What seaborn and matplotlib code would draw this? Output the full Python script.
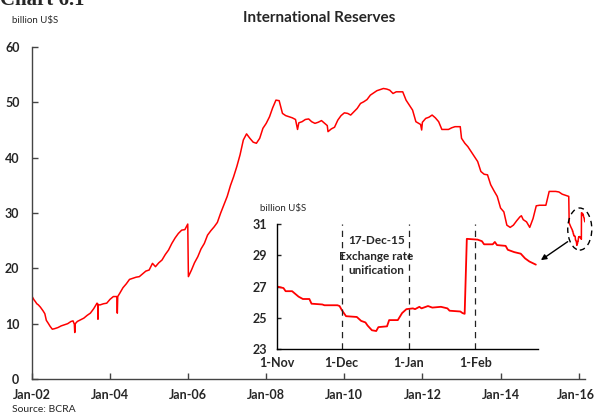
import matplotlib
matplotlib.use("Agg")
import matplotlib.pyplot as plt
import matplotlib.dates as mdates
import matplotlib.transforms as mtransforms
from matplotlib.patches import Ellipse
import pandas as pd
import seaborn as sns

# ---------------- data ----------------
main_dates = [
    "2002-01-02", "2002-01-20", "2002-02-01", "2002-02-15", "2002-03-01", "2002-03-20",
    "2002-04-15", "2002-05-01", "2002-05-15", "2002-06-01", "2002-06-20", "2002-07-10",
    "2002-08-01", "2002-09-01", "2002-10-01", "2002-11-01", "2002-12-01", "2003-01-01",
    "2003-01-20", "2003-02-01", "2003-02-05", "2003-02-10", "2003-03-01", "2003-04-01",
    "2003-05-01", "2003-06-01", "2003-07-01", "2003-08-01", "2003-09-01", "2003-09-08",
    "2003-09-10", "2003-09-13", "2003-10-01", "2003-11-01", "2003-12-01", "2004-01-01",
    "2004-02-01", "2004-03-05", "2004-03-09", "2004-03-13", "2004-04-01", "2004-05-01",
    "2004-06-01", "2004-07-01", "2004-08-01", "2004-09-01", "2004-10-01", "2004-11-01",
    "2004-12-01", "2005-01-01", "2005-02-01", "2005-03-01", "2005-04-01", "2005-05-01",
    "2005-06-01", "2005-07-01", "2005-08-01", "2005-09-01", "2005-10-01", "2005-11-01",
    "2005-12-01", "2005-12-28", "2006-01-03", "2006-02-01", "2006-03-01", "2006-04-01",
    "2006-05-01", "2006-06-01", "2006-07-01", "2006-08-01", "2006-09-01", "2006-10-01",
    "2006-11-01", "2006-12-01", "2007-01-01", "2007-02-01", "2007-03-01", "2007-04-01",
    "2007-05-01", "2007-06-01", "2007-07-01", "2007-08-01", "2007-09-01", "2007-10-01",
    "2007-11-01", "2007-12-01", "2008-01-01", "2008-02-01", "2008-03-01", "2008-04-01",
    "2008-05-01", "2008-06-01", "2008-07-01", "2008-08-01", "2008-09-01", "2008-10-01",
    "2008-10-20", "2008-11-01", "2008-12-01", "2009-01-01", "2009-02-01", "2009-03-01",
    "2009-04-01", "2009-05-01", "2009-06-01", "2009-07-01", "2009-07-25", "2009-08-01",
    "2009-09-01", "2009-10-01", "2009-11-01", "2009-12-01", "2010-01-01", "2010-02-01",
    "2010-03-01", "2010-04-01", "2010-05-01", "2010-06-01", "2010-07-01", "2010-08-01",
    "2010-09-01", "2010-10-01", "2010-11-01", "2010-12-01", "2011-01-01", "2011-02-01",
    "2011-03-01", "2011-04-01", "2011-05-01", "2011-06-01", "2011-07-01", "2011-08-01",
    "2011-09-01", "2011-10-01", "2011-11-01", "2011-12-15", "2011-12-25", "2012-01-01",
    "2012-02-01", "2012-03-01", "2012-04-01", "2012-05-01", "2012-06-01", "2012-07-01",
    "2012-08-01", "2012-09-01", "2012-10-01", "2012-11-01", "2012-12-20", "2013-01-01",
    "2013-02-01", "2013-03-01", "2013-04-01", "2013-05-01", "2013-06-01", "2013-07-01",
    "2013-08-01", "2013-09-01", "2013-10-01", "2013-11-01", "2013-12-01", "2014-01-01",
    "2014-02-01", "2014-03-01", "2014-04-01", "2014-05-01", "2014-06-01", "2014-07-01",
    "2014-07-15", "2014-08-01", "2014-09-01", "2014-10-01", "2014-11-01", "2014-12-01",
    "2015-01-01", "2015-02-01", "2015-03-01", "2015-04-01", "2015-05-01", "2015-06-01",
    "2015-07-01", "2015-08-01", "2015-09-01", "2015-10-01", "2015-10-05", "2015-10-20",
]
main_values = [
    14.9, 14.3, 14.0, 13.6, 13.4, 13.0,
    12.3, 11.8, 10.6, 10.1, 9.5, 9.0,
    9.1, 9.3, 9.6, 9.8, 10.0, 10.4,
    10.5, 9.9, 8.4, 10.0, 10.4, 10.7,
    11.0, 11.5, 11.9, 12.7, 13.7, 13.6,
    10.8, 13.4, 13.4, 13.6, 13.7, 14.4,
    14.9, 14.9, 11.9, 14.9, 15.5, 16.5,
    17.2, 18.0, 18.2, 18.4, 18.5, 19.0,
    19.5, 19.7, 20.9, 20.3, 21.0, 21.5,
    22.5, 23.3, 24.5, 25.5, 26.3, 26.9,
    27.0, 28.0, 18.5, 19.7, 21.0, 22.1,
    23.5, 24.5, 26.0, 26.8, 27.5, 28.3,
    30.0, 31.5, 33.0, 35.0, 36.5, 38.4,
    40.5, 43.2, 44.3, 43.5, 42.8, 42.6,
    43.5, 45.3, 46.2, 47.4, 49.0, 50.4,
    50.3, 48.0, 47.6, 47.4, 47.2, 46.9,
    45.1, 46.3, 46.5, 46.9, 47.0, 46.5,
    46.2, 46.4, 46.7, 46.2, 45.8, 44.7,
    45.2, 45.5, 46.8, 47.6, 48.1, 48.0,
    47.7, 48.3, 48.9, 49.8, 50.1, 50.5,
    51.3, 51.7, 52.1, 52.3, 52.5, 52.4,
    52.2, 51.6, 51.9, 51.9, 51.9, 50.4,
    49.5, 48.6, 46.5, 46.0, 45.0, 46.4,
    47.1, 47.3, 47.7, 47.2, 46.5, 45.1,
    45.1, 45.1, 45.4, 45.6, 45.6, 43.5,
    42.6, 42.0, 41.1, 40.2, 39.3, 37.5,
    37.0, 36.9, 35.1, 34.0, 33.0, 30.9,
    30.2, 27.8, 27.4, 27.8, 28.6, 29.3,
    29.5, 28.8, 28.4, 27.4, 29.0, 31.3,
    31.4, 31.4, 31.4, 33.9, 33.9, 33.9,
    33.8, 33.4, 33.2, 33.0, 28.2, 27.5,
]

inset_dates = [
    "2015-11-01", "2015-11-04", "2015-11-05", "2015-11-08", "2015-11-11", "2015-11-13",
    "2015-11-16", "2015-11-17", "2015-11-22", "2015-11-23", "2015-11-29", "2015-11-30",
    "2015-12-01", "2015-12-03", "2015-12-08", "2015-12-10", "2015-12-12", "2015-12-13",
    "2015-12-15", "2015-12-17", "2015-12-18", "2015-12-22", "2015-12-23", "2015-12-27",
    "2015-12-29", "2015-12-31", "2016-01-03", "2016-01-04", "2016-01-06", "2016-01-07",
    "2016-01-10", "2016-01-12", "2016-01-16", "2016-01-19", "2016-01-20", "2016-01-25",
    "2016-01-26", "2016-01-27", "2016-01-28", "2016-02-02", "2016-02-04", "2016-02-05",
    "2016-02-09", "2016-02-10", "2016-02-11", "2016-02-15", "2016-02-16", "2016-02-19",
    "2016-02-22", "2016-02-24", "2016-02-26", "2016-02-29",
]
inset_values = [
    27.0, 26.9, 26.7, 26.7, 26.35, 26.2,
    26.2, 25.9, 25.85, 25.8, 25.8, 25.75,
    25.5, 25.1, 25.05, 24.8, 24.7, 24.5,
    24.2, 24.15, 24.4, 24.45, 24.85, 24.85,
    25.3, 25.55, 25.6, 25.55, 25.7, 25.6,
    25.75, 25.65, 25.7, 25.6, 25.45, 25.4,
    25.3, 25.25, 30.05, 30.0, 29.9, 29.7,
    29.7, 29.85, 29.65, 29.6, 29.35, 29.2,
    29.1, 28.8, 28.6, 28.4,
]

main_ticks = ["2002-01-01", "2004-01-01", "2006-01-01", "2008-01-01",
              "2010-01-01", "2012-01-01", "2014-01-01", "2016-01-01"]
main_tick_labels = ["Jan-02", "Jan-04", "Jan-06", "Jan-08",
                    "Jan-10", "Jan-12", "Jan-14", "Jan-16"]
inset_ticks = ["2015-11-01", "2015-12-01", "2016-01-01", "2016-02-01"]
inset_tick_labels = ["1-Nov", "1-Dec", "1-Jan", "1-Feb"]
inset_vlines = ["2015-12-01", "2016-01-01", "2016-02-01"]

# ---------------- style ----------------
sns.set_style("ticks")
plt.rcParams["font.family"] = ["Lato", "DejaVu Sans"]

full = pd.DataFrame({
    "date": pd.to_datetime(main_dates + inset_dates),
    "value": main_values + inset_values,
})
ins = pd.DataFrame({"date": pd.to_datetime(inset_dates), "value": inset_values})

fig = plt.figure(figsize=(5.95, 4.16), dpi=100)
W, H = 595, 416

def frac(x0, y0, x1, y1):
    return [x0 / W, 1 - y1 / H, (x1 - x0) / W, (y1 - y0) / H]

ax = fig.add_axes(frac(32, 47, 585, 379))
sns.lineplot(data=full, x="date", y="value", ax=ax, color="#ff0000",
             linewidth=1.1, estimator=None)
ax.set_xlim(pd.Timestamp("2002-01-01"), pd.Timestamp("2016-03-01"))
ax.set_ylim(0, 60)
ax.set_yticks([0, 10, 20, 30, 40, 50, 60])
ax.set_xticks(pd.to_datetime(main_ticks))
ax.set_xticklabels(main_tick_labels)
ax.set_xlabel("")
ax.set_ylabel("")
for s in ["top", "right"]:
    ax.spines[s].set_visible(False)
for s in ["left", "bottom"]:
    ax.spines[s].set_color("#444444")
    ax.spines[s].set_linewidth(1.0)
ax.tick_params(axis="both", direction="in", length=4, width=1, color="#444444",
               labelsize=9)
ax.tick_params(axis="y", pad=9)
ax.tick_params(axis="x", pad=7)
for lab in ax.get_xticklabels() + ax.get_yticklabels():
    lab.set_fontweight("bold")
# keep the last date label inside the canvas
last = ax.get_xticklabels()[-1]
last.set_transform(last.get_transform() +
                   mtransforms.ScaledTranslation(-3 / 100, 0, fig.dpi_scale_trans))

# ellipse + arrow
ax.add_patch(Ellipse((mdates.date2num(pd.Timestamp("2016-01-12")), 27.1),
                     width=225, height=7.6, fill=False, edgecolor="black",
                     linestyle=(0, (4, 3)), linewidth=1.0, zorder=5,
                     clip_on=False))
ax.annotate("", xy=(mdates.date2num(pd.Timestamp("2014-12-23")), 21.2),
            xytext=(mdates.date2num(pd.Timestamp("2015-10-12")), 25.1),
            arrowprops=dict(arrowstyle="-|>", color="black", lw=1.0,
                            mutation_scale=8))

# inset
ax2 = fig.add_axes(frac(277, 224, 538, 349))
ax2.patch.set_alpha(0)
sns.lineplot(data=ins, x="date", y="value", ax=ax2, color="#ff0000",
             linewidth=1.3, estimator=None)
ax2.set_xlim(pd.Timestamp("2015-11-01"), pd.Timestamp("2016-03-01"))
ax2.set_ylim(23, 31)
ax2.set_yticks([23, 25, 27, 29, 31])
ax2.set_xticks(pd.to_datetime(inset_ticks))
ax2.set_xticklabels(inset_tick_labels)
ax2.set_xlabel("")
ax2.set_ylabel("")
for s in ["top", "right"]:
    ax2.spines[s].set_visible(False)
for s in ["left", "bottom"]:
    ax2.spines[s].set_color("black")
    ax2.spines[s].set_linewidth(1.0)
ax2.tick_params(axis="y", direction="in", length=3, width=1, labelsize=9, pad=7)
ax2.tick_params(axis="x", length=0, labelsize=9, pad=6)
for lab in ax2.get_xticklabels() + ax2.get_yticklabels():
    lab.set_fontweight("bold")
for d in inset_vlines:
    ax2.axvline(pd.Timestamp(d), color="#222222", linestyle=(0, (5, 4)),
                linewidth=0.9, ymin=0, ymax=1)
ax2.text(pd.Timestamp("2015-12-17"), 29.95, "17-Dec-15", ha="center", va="center",
         fontsize=8.5, fontweight="bold")
ax2.text(pd.Timestamp("2015-12-17"), 28.95, "Exchange rate", ha="center", va="center",
         fontsize=8.5, fontweight="bold")
ax2.text(pd.Timestamp("2015-12-17"), 28.0, "unification", ha="center", va="center",
         fontsize=8.5, fontweight="bold")

# texts
fig.text(12 / W, 1 - 20 / H, "billion U$S", fontsize=7, va="center", ha="left")
fig.text(260 / W, 1 - 208 / H, "billion U$S", fontsize=7, va="center", ha="left")
fig.text(319 / W, 1 - 18 / H, "International Reserves", fontsize=11,
         fontweight="bold", va="center", ha="center")
fig.text(0 / W, 1 - 0 / H, "Chart 6.1", fontsize=15, fontweight="bold",
         family=["Liberation Serif", "DejaVu Serif"], va="center", ha="left")
fig.text(12 / W, 1 - 409 / H, "Source: BCRA", fontsize=7.5, va="center", ha="left")

fig.savefig("out.png", dpi=100)
